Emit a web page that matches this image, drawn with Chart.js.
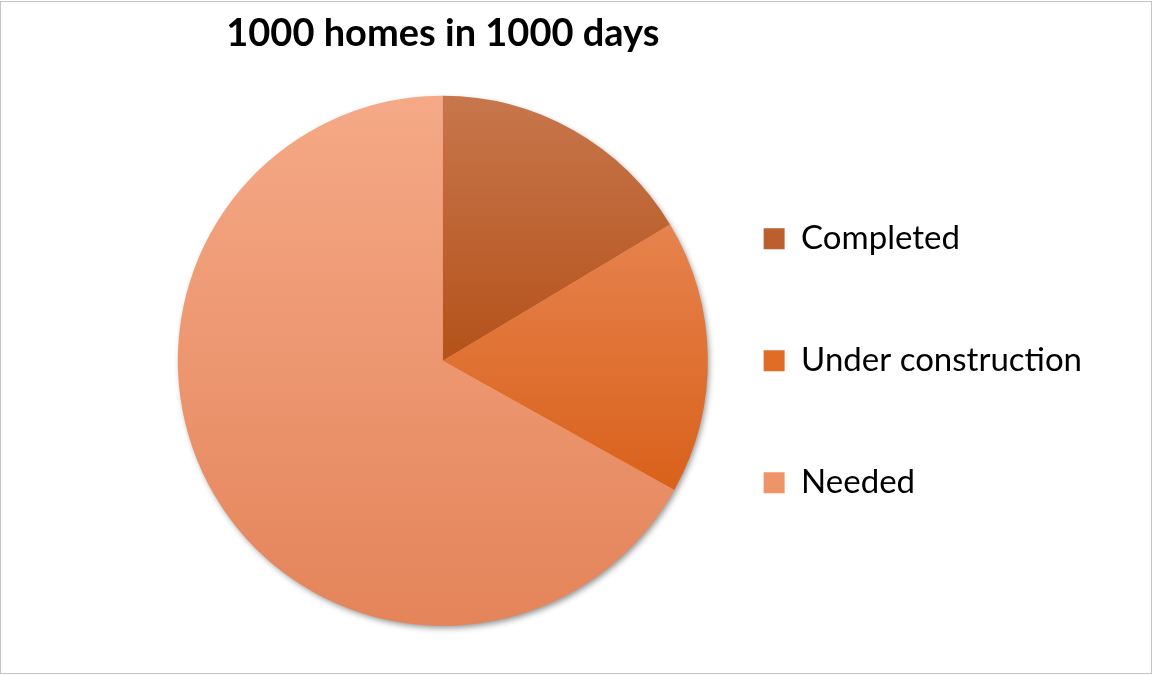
<!DOCTYPE html>
<html lang="en">
<head>
    <meta charset="UTF-8">
    <meta name="viewport" content="width=device-width, initial-scale=1.0">
    <script src="https://cdn.jsdelivr.net/npm/chart.js"></script>
    <title>1000 homes in 1000 days</title>
    <style>
        body { margin: 0; background: #fff; }
        #wrap { position: relative; width: 1152px; height: 675px; }
        #frame {
            position: absolute; left: 0; top: 1px; width: 1152px; height: 673px;
            box-sizing: border-box; border: 1px solid #c4c4c4; pointer-events: none;
        }
    </style>
</head>
<body>
<div id="wrap">
    <canvas id="myChart"></canvas>
    <div id="frame"></div>
</div>
<script>
// homes by status
const labels = ['Completed', 'Under construction', 'Needed'];
const homes = [164, 167, 669];

// top / bottom colour of each slice's gradient, plus a flat colour for the legend squares
const topColors = ['#c8764c', '#e6834e', '#f5a986'];
const bottomColors = ['#b3521a', '#d9611a', '#e4845a'];
const legendColors = ['#bb5f2e', '#e06c25', '#ef9368'];

const PIE_RADIUS = 265;

// vertical gradient covering the slice's own bounding box
function sliceGradient(context) {
  const chart = context.chart;
  const area = chart.chartArea;
  const i = context.dataIndex;
  if (!area) return legendColors[i];
  const cx = (area.left + area.right) / 2;
  const cy = (area.top + area.bottom) / 2;
  const total = homes.reduce((a, b) => a + b, 0);
  let before = 0;
  for (let k = 0; k < i; k++) before += homes[k];
  const a0 = -Math.PI / 2 + 2 * Math.PI * before / total;
  const a1 = a0 + 2 * Math.PI * homes[i] / total;
  const ys = [cy, cy + PIE_RADIUS * Math.sin(a0), cy + PIE_RADIUS * Math.sin(a1)];
  // does the slice pass the top or bottom of the circle?
  [-Math.PI / 2, Math.PI / 2, 3 * Math.PI / 2].forEach(a => {
    if (a >= a0 && a <= a1) ys.push(cy + PIE_RADIUS * Math.sin(a));
  });
  const g = chart.ctx.createLinearGradient(0, Math.min(...ys), 0, Math.max(...ys));
  g.addColorStop(0, topColors[i]);
  g.addColorStop(1, bottomColors[i]);
  return g;
}

// soft shadow behind the whole pie
const pieShadow = {
  id: 'pieShadow',
  beforeDatasetsDraw(chart) {
    const arc = chart.getDatasetMeta(0).data[0];
    if (!arc) return;
    const { x, y, outerRadius } = arc.getProps(['x', 'y', 'outerRadius'], true);
    const ctx = chart.ctx;
    ctx.save();
    ctx.shadowColor = 'rgba(0, 0, 0, 0.45)';
    ctx.shadowBlur = 6;
    ctx.shadowOffsetX = 2;
    ctx.shadowOffsetY = 3;
    ctx.fillStyle = '#e98d62';
    ctx.beginPath();
    ctx.arc(x, y, outerRadius - 1, 0, Math.PI * 2);
    ctx.fill();
    ctx.restore();
  }
};

const ctx = document.getElementById('myChart').getContext('2d');
new Chart(ctx, {
  type: 'pie',
  data: {
    labels: labels,
    datasets: [{
      data: homes,
      backgroundColor: sliceGradient,
      borderWidth: 0,
      radius: PIE_RADIUS,
      clip: false
    }]
  },
  options: {
    responsive: true,
    maintainAspectRatio: false,
    animation: false,
    events: [],
    layout: { padding: { left: 211, right: 60, top: 0, bottom: 10 } },
    plugins: {
      title: {
        display: true,
        text: '1000 homes in 1000 days',
        color: '#000',
        fullSize: false,
        font: { family: 'Lato', size: 38, weight: 'bold', lineHeight: 1.2 },
        padding: { top: 11, bottom: 0 }
      },
      legend: {
        position: 'right',
        fullSize: false,
        labels: {
          color: '#000',
          font: { family: 'Lato', size: 33 },
          boxWidth: 21,
          boxHeight: 21,
          padding: 89,
          generateLabels: () => labels.map((text, i) => ({
            text: text,
            fillStyle: legendColors[i],
            strokeStyle: legendColors[i],
            lineWidth: 0,
            fontColor: '#000',
            hidden: false,
            index: i
          }))
        }
      },
      tooltip: { enabled: false }
    }
  },
  plugins: [pieShadow]
});
</script>
</body>
</html>
